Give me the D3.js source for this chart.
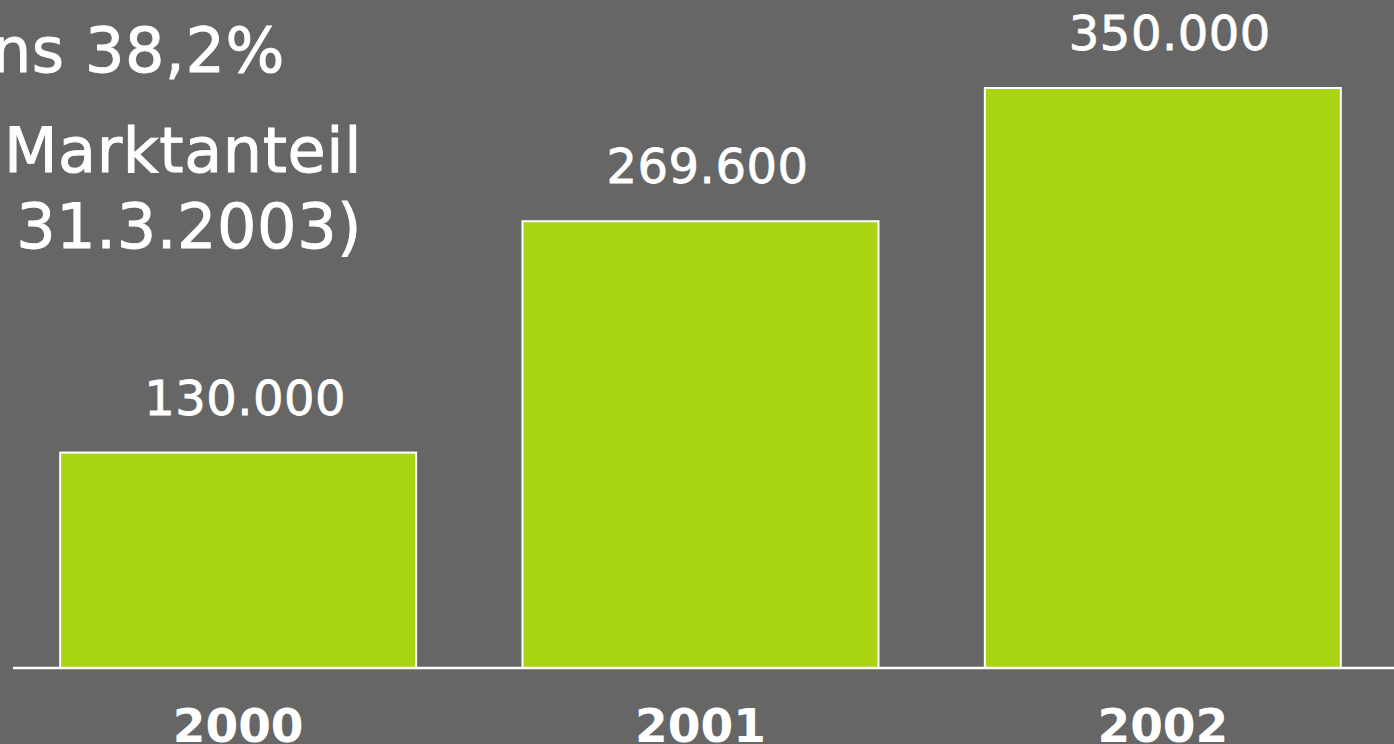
<!DOCTYPE html>
<html>
<head>
<meta charset="utf-8">
<script src="https://cdn.jsdelivr.net/npm/d3@7"></script>
<style>
  html, body { margin: 0; padding: 0; background: #666666; overflow: hidden; }
  svg { display: block; }
</style>
</head>
<body>
<svg id="chart" width="1394" height="744"></svg>
<script>
// ---- data ----
const categories = ["2000", "2001", "2002"];
const values = [130000, 269600, 350000];
const titleLines = ["ns 38,2%", "Marktanteil", "31.3.2003)"];

// ---- setup ----
const W = 1394, H = 744;
const svg = d3.select("#chart");
svg.append("rect").attr("width", W).attr("height", H).attr("fill", "#666666");

const baseY = 668;
const x = d3.scaleBand().domain(categories).range([7, 1394]).paddingInner(0.23).paddingOuter(0.115);
const y = d3.scaleLinear().domain([0, 350000]).range([baseY, 88]);

const de = d3.formatLocale({ decimal: ",", thousands: ".", grouping: [3], currency: ["", " €"] });
const fmt = de.format(",");

// bars
svg.append("g").selectAll("rect").data(values).join("rect")
  .attr("x", (d, i) => x(categories[i]))
  .attr("y", d => y(d))
  .attr("width", x.bandwidth())
  .attr("height", d => y(0) - y(d))
  .attr("fill", "#A8D414")
  .attr("stroke", "#ffffff")
  .attr("stroke-width", 2);

// baseline
svg.append("line")
  .attr("x1", 13).attr("x2", W)
  .attr("y1", baseY).attr("y2", baseY)
  .attr("stroke", "#ffffff").attr("stroke-width", 2.5);

// value labels
svg.append("g").selectAll("text").data(values).join("text")
  .attr("x", (d, i) => x(categories[i]) + x.bandwidth() / 2 + 7)
  .attr("y", d => y(d) - 38)
  .attr("text-anchor", "middle")
  .attr("font-family", "DejaVu Sans, Verdana, sans-serif")
  .attr("font-size", 48)
  .attr("letter-spacing", 0.5)
  .attr("fill", "#ffffff")
  .attr("stroke", "#ffffff")
  .attr("stroke-width", 0.8)
  .text(d => fmt(d));

// category axis
const axis = d3.axisBottom(x).tickSize(0).tickPadding(0);
const gx = svg.append("g").attr("transform", `translate(0,${baseY})`).call(axis);
gx.select(".domain").remove();
gx.selectAll("text")
  .attr("y", 0)
  .attr("dy", 74)
  .attr("font-family", "DejaVu Sans, Verdana, sans-serif")
  .attr("font-weight", "bold")
  .attr("font-size", 47)
  .attr("fill", "#ffffff");

// title block (partially cut off at the left)
const titleEnds = [285, 362, 362];
const titleBase = [72, 172, 248];
svg.append("g").selectAll("text").data(titleLines).join("text")
  .attr("x", (d, i) => titleEnds[i])
  .attr("y", (d, i) => titleBase[i])
  .attr("text-anchor", "end")
  .attr("font-family", "DejaVu Sans, Verdana, sans-serif")
  .attr("font-size", 62)
  .attr("letter-spacing", 0.6)
  .attr("fill", "#ffffff")
  .attr("stroke", "#ffffff")
  .attr("stroke-width", 0.9)
  .text(d => d);
</script>
</body>
</html>
